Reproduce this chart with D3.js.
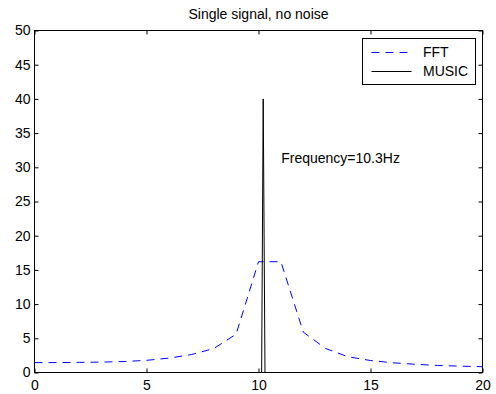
<!DOCTYPE html>
<html>
<head>
<meta charset="utf-8">
<script src="https://cdn.jsdelivr.net/npm/d3@7"></script>
<style>
  html, body { margin: 0; padding: 0; background: #fff; }
  svg text { font-family: "Liberation Sans", Arial, sans-serif; fill: #000; }
</style>
</head>
<body>
<svg id="chart" width="496" height="394"></svg>
<script>
// ---- data ----
const fftFreq = [0,1,2,3,4,5,6,7,8,9,10,11,12,13,14,15,16,17,18,19,20];
const fftValues = [1.45,1.45,1.48,1.52,1.6,1.78,2.1,2.62,3.5,5.6,16.2,16.2,5.9,3.5,2.3,1.75,1.42,1.2,1.03,0.93,0.85];
const musicFreq = [0, 10.14, 10.21, 10.29, 20];
const musicValues = [0, 0, 40, 0, 0];
const xTicks = [0,5,10,15,20];
const yTicks = [0,5,10,15,20,25,30,35,40,45,50];
const titleText = "Single signal, no noise";
const annotationText = "Frequency=10.3Hz";
const legendLabels = ["FFT", "MUSIC"];

// ---- layout ----
const svg = d3.select("#chart");
const L = 34.5, R = 482.5, T = 30.5, B = 372.5;
const x = d3.scaleLinear().domain([0,20]).range([L,R]);
const y = d3.scaleLinear().domain([0,50]).range([B,T]);
const tickLen = 4;

svg.append("rect").attr("x",0).attr("y",0).attr("width",496).attr("height",394).attr("fill","#fff");

// lines
const fftData = fftFreq.map((f,i)=>[f,fftValues[i]]);
const musicData = musicFreq.map((f,i)=>[f,musicValues[i]]);
const line = d3.line().x(d=>x(d[0])).y(d=>y(d[1]));

svg.append("path").datum(fftData).attr("d",line)
  .attr("fill","none").attr("stroke","#0000ff").attr("stroke-width",1)
  .attr("stroke-dasharray","8,6");
svg.append("path").datum(musicData).attr("d",line)
  .attr("fill","none").attr("stroke","#000").attr("stroke-width",1);

// axes (ticks inward)
const fontSize = "14px";
const xAxis = svg.append("g").attr("transform",`translate(0,${B})`)
  .call(d3.axisBottom(x).tickValues(xTicks).tickSize(-tickLen).tickPadding(7.5).tickFormat(d3.format("d")));
const xAxisTop = svg.append("g").attr("transform",`translate(0,${T})`)
  .call(d3.axisTop(x).tickValues(xTicks).tickSize(-tickLen).tickFormat(""));
const yAxis = svg.append("g").attr("transform",`translate(${L},0)`)
  .call(d3.axisLeft(y).tickValues(yTicks).tickSize(-tickLen).tickPadding(4).tickFormat(d3.format("d")));
const yAxisR = svg.append("g").attr("transform",`translate(${R},0)`)
  .call(d3.axisRight(y).tickValues(yTicks).tickSize(-tickLen).tickFormat(""));
[xAxis,xAxisTop,yAxis,yAxisR].forEach(g=>{
  g.select(".domain").remove();
  g.selectAll("line").attr("stroke","#000");
  g.selectAll("text").style("font-family","'Liberation Sans', Arial, sans-serif")
    .style("font-size",fontSize).attr("fill","#000");
});

// box
svg.append("rect").attr("x",L).attr("y",T).attr("width",R-L).attr("height",B-T)
  .attr("fill","none").attr("stroke","#000").attr("stroke-width",1);

// title
svg.append("text").attr("x",(L+R)/2).attr("y",18.5).attr("text-anchor","middle")
  .style("font-size",fontSize).text(titleText);

// annotation
svg.append("text").attr("x",x(10.3)+16).attr("y",162.5)
  .style("font-size",fontSize).text(annotationText);

// legend
const lg = svg.append("g");
lg.append("rect").attr("x",362.5).attr("y",38.5).attr("width",113).attr("height",46)
  .attr("fill","#fff").attr("stroke","#000").attr("stroke-width",1);
const legendStyles = [
  {stroke:"#0000ff", dash:"8,6"},
  {stroke:"#000", dash:null}
];
legendLabels.forEach((lab,i)=>{
  const yy = 52.5 + i*19;
  const ln = lg.append("line").attr("x1",371.5).attr("x2",411.5).attr("y1",yy).attr("y2",yy)
    .attr("stroke",legendStyles[i].stroke).attr("stroke-width",1);
  if (legendStyles[i].dash) ln.attr("stroke-dasharray",legendStyles[i].dash);
  lg.append("text").attr("x",423).attr("y",yy+4.5).style("font-size",fontSize).text(lab);
});
</script>
</body>
</html>
